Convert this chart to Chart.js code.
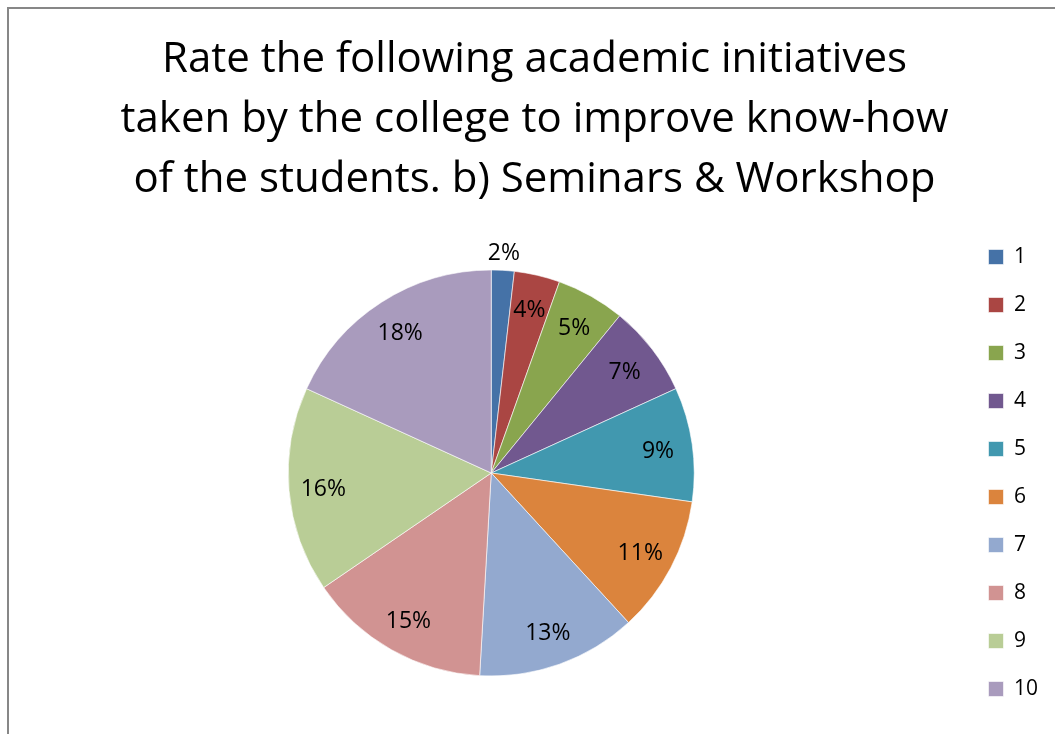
<!DOCTYPE html>
<html>
<head>
<meta charset="utf-8">
<script src="https://cdn.jsdelivr.net/npm/chart.js@4.4.1/dist/chart.umd.min.js"></script>
<style>
    html, body { margin: 0; padding: 0; background: #fff; }
    #wrap { position: relative; width: 1055px; height: 734px; overflow: hidden; }
    #frame {
        position: absolute; left: 7px; top: 7px; right: -10px; bottom: -10px;
        border-left: 2px solid #878787; border-top: 2px solid #878787;
        pointer-events: none;
    }
</style>
</head>
<body>
<div id="wrap">
    <canvas id="pie" width="1055" height="734"></canvas>
    <div id="frame"></div>
</div>
<script>
    "use strict";

    // chart data
    const titleLines = [
        "Rate the following academic initiatives",
        "taken by the college to improve know-how",
        "of the students. b) Seminars & Workshop"
    ];
    const categories = ["1", "2", "3", "4", "5", "6", "7", "8", "9", "10"];
    const counts = [1, 2, 3, 4, 5, 6, 7, 8, 9, 10];
    const sliceColors = ["#4572A7", "#AA4643", "#89A54E", "#71588F", "#4198AF",
                         "#DB843D", "#93A9CF", "#D19392", "#B9CD96", "#A99BBD"];

    const FONT = "'Open Sans', 'Noto Sans', sans-serif";

    // percentage labels, inside the slice or just outside when it is too thin
    const pctLabels = {
        id: "pctLabels",
        afterDatasetsDraw(chart) {
            const ctx = chart.ctx;
            const meta = chart.getDatasetMeta(0);
            const values = chart.data.datasets[0].data;
            const total = values.reduce((a, b) => a + b, 0);
            ctx.save();
            ctx.font = "23px " + FONT;
            ctx.fillStyle = "#000";
            ctx.textAlign = "center";
            ctx.textBaseline = "middle";
            meta.data.forEach((arc, i) => {
                const p = arc.getProps(["x", "y", "startAngle", "endAngle", "outerRadius"], true);
                const share = values[i] / total;
                const mid = (p.startAngle + p.endAngle) / 2;
                const dist = share < 0.03 ? p.outerRadius + 19 : p.outerRadius * 0.83;
                const txt = Math.round(share * 100) + "%";
                ctx.fillText(txt, p.x + Math.cos(mid) * dist, p.y + Math.sin(mid) * dist + 2);
            });
            ctx.restore();
        }
    };

    new Chart(document.getElementById("pie"), {
        type: "pie",
        data: {
            labels: categories,
            datasets: [{
                data: counts,
                backgroundColor: sliceColors,
                borderColor: "rgba(255,255,255,0.6)",
                borderWidth: 1,
                radius: 203
            }]
        },
        options: {
            responsive: false,
            animation: false,
            layout: {
                padding: { left: 21, right: 7, top: 0, bottom: 7 }
            },
            plugins: {
                title: {
                    display: true,
                    text: titleLines,
                    color: "#000",
                    font: { family: FONT, size: 42, weight: "normal", lineHeight: 60 / 42 },
                    padding: { top: 30, bottom: 9 }
                },
                legend: {
                    position: "right",
                    align: "center",
                    fullSize: false,
                    labels: {
                        color: "#000",
                        font: { family: FONT, size: 21 },
                        boxWidth: 15,
                        boxHeight: 15,
                        padding: 27
                    }
                },
                tooltip: { enabled: false }
            }
        },
        plugins: [pctLabels]
    });
</script>
</body>
</html>
